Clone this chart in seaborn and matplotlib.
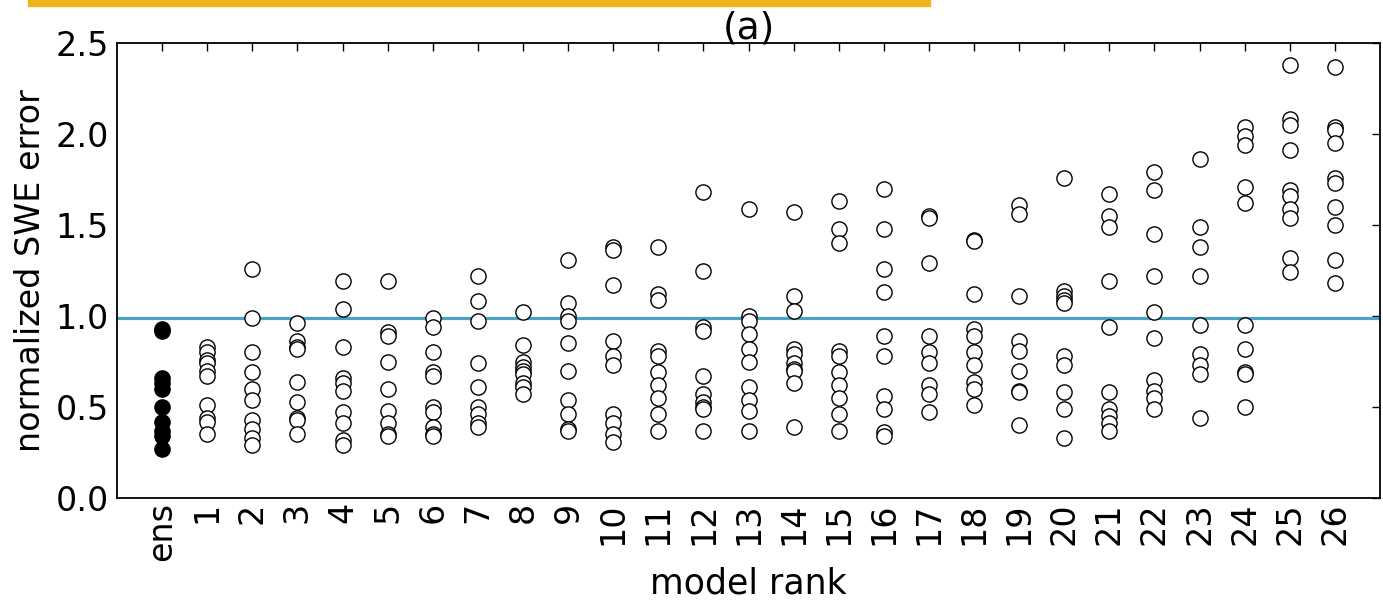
import numpy as np
import pandas as pd
import matplotlib
matplotlib.use("Agg")
import matplotlib.pyplot as plt
import seaborn as sns

# ---- data: normalized SWE error per model rank column ----
ranks = ['ens'] + [str(i) for i in range(1, 27)]

ens = [0.93, 0.92, 0.66, 0.63, 0.60, 0.50, 0.42, 0.37, 0.34, 0.27]
r1 = [0.83, 0.80, 0.76, 0.74, 0.70, 0.67, 0.51, 0.44, 0.42, 0.35]
r2 = [1.26, 0.99, 0.80, 0.69, 0.60, 0.54, 0.43, 0.38, 0.33, 0.29]
r3 = [0.96, 0.86, 0.83, 0.82, 0.64, 0.53, 0.44, 0.43, 0.35]
r4 = [1.19, 1.04, 0.83, 0.66, 0.63, 0.59, 0.47, 0.41, 0.32, 0.29]
r5 = [1.19, 0.91, 0.89, 0.75, 0.60, 0.48, 0.41, 0.35, 0.34]
r6 = [0.99, 0.94, 0.80, 0.69, 0.67, 0.50, 0.47, 0.39, 0.35, 0.34]
r7 = [1.22, 1.08, 0.97, 0.74, 0.61, 0.50, 0.46, 0.41, 0.39]
r8 = [1.02, 0.84, 0.75, 0.72, 0.70, 0.68, 0.63, 0.61, 0.57]
r9 = [1.31, 1.07, 1.00, 0.97, 0.85, 0.70, 0.54, 0.46, 0.38, 0.37]
r10 = [1.38, 1.36, 1.17, 0.86, 0.78, 0.73, 0.46, 0.41, 0.35, 0.31]
r11 = [1.38, 1.12, 1.09, 0.81, 0.78, 0.69, 0.62, 0.55, 0.46, 0.37]
r12 = [1.68, 1.25, 0.94, 0.92, 0.67, 0.57, 0.53, 0.50, 0.49, 0.37]
r13 = [1.59, 1.00, 0.97, 0.90, 0.82, 0.75, 0.61, 0.54, 0.48, 0.37]
r14 = [1.57, 1.11, 1.03, 0.82, 0.79, 0.74, 0.71, 0.70, 0.63, 0.39]
r15 = [1.63, 1.48, 1.40, 0.81, 0.78, 0.69, 0.62, 0.55, 0.46, 0.37]
r16 = [1.70, 1.48, 1.26, 1.13, 0.89, 0.78, 0.56, 0.49, 0.36, 0.34]
r17 = [1.55, 1.54, 1.29, 0.89, 0.80, 0.74, 0.62, 0.57, 0.47]
r18 = [1.42, 1.41, 1.12, 0.93, 0.89, 0.80, 0.73, 0.64, 0.60, 0.51]
r19 = [1.61, 1.56, 1.11, 0.86, 0.81, 0.70, 0.59, 0.58, 0.40]
r20 = [1.76, 1.14, 1.11, 1.09, 1.07, 0.78, 0.73, 0.58, 0.49, 0.33]
r21 = [1.67, 1.55, 1.49, 1.19, 0.94, 0.58, 0.49, 0.45, 0.41, 0.37]
r22 = [1.79, 1.69, 1.45, 1.22, 1.02, 0.88, 0.65, 0.59, 0.55, 0.49]
r23 = [1.86, 1.49, 1.38, 1.22, 0.95, 0.79, 0.73, 0.68, 0.44]
r24 = [2.04, 1.99, 1.94, 1.71, 1.62, 0.95, 0.82, 0.69, 0.68, 0.50]
r25 = [2.38, 2.08, 2.05, 1.91, 1.69, 1.66, 1.59, 1.54, 1.32, 1.24]
r26 = [2.37, 2.04, 2.02, 1.95, 1.76, 1.73, 1.60, 1.50, 1.31, 1.18]

columns = [ens, r1, r2, r3, r4, r5, r6, r7, r8, r9, r10, r11, r12, r13,
           r14, r15, r16, r17, r18, r19, r20, r21, r22, r23, r24, r25, r26]
ref_level = 0.99

rows = []
for pos, vals in enumerate(columns):
    for v in vals:
        rows.append({'pos': pos, 'rank': ranks[pos], 'error': v})
df = pd.DataFrame(rows)

sns.set_style("white")
plt.rcParams['font.family'] = ['DejaVu Sans']
plt.rcParams['text.color'] = 'black'
plt.rcParams['axes.labelcolor'] = 'black'
plt.rcParams['xtick.color'] = 'black'
plt.rcParams['ytick.color'] = 'black'
plt.rcParams['xtick.direction'] = 'in'
plt.rcParams['ytick.direction'] = 'in'

fig = plt.figure(figsize=(13.83, 6.04), dpi=100)
ax = fig.add_axes([117 / 1383, 1 - 498 / 604, (1380 - 117) / 1383, (498 - 43) / 604])

sns.scatterplot(data=df[df['pos'] > 0], x='pos', y='error', ax=ax, s=120,
                facecolor='white', edgecolor='black', linewidth=1.0, zorder=3)
sns.scatterplot(data=df[df['pos'] == 0], x='pos', y='error', ax=ax, s=120,
                color='black', edgecolor='black', linewidth=1.0, zorder=3)
ax.axhline(ref_level, color='#4aa3c2', lw=2.3, zorder=2)

ax.set_xlim(-1, 27)
ax.set_ylim(0, 2.5)
ax.set_xticks(range(len(ranks)))
ax.set_xticklabels(ranks, rotation=90, fontsize=24)
ax.set_yticks([0.0, 0.5, 1.0, 1.5, 2.0, 2.5])
ax.set_yticklabels(['0.0', '0.5', '1.0', '1.5', '2.0', '2.5'], fontsize=24)
ax.tick_params(axis='both', which='both', top=True, right=True, length=6,
               width=1, color='black', pad=6)
ax.tick_params(axis='x', pad=3)
for sp in ax.spines.values():
    sp.set_visible(True)
    sp.set_color('black')
    sp.set_linewidth(1.3)
ax.set_xlabel('model rank', fontsize=25, labelpad=4)
ax.set_ylabel('normalized SWE error', fontsize=24, labelpad=6)
ax.set_title('(a)', fontsize=27, pad=3)

# orange banner strip along the top
fig.patches.append(plt.Rectangle((28 / 1383, 1 - 6 / 604), (930 - 28) / 1383, 6 / 604,
                                 transform=fig.transFigure, color='#f0b41e', zorder=5))

fig.savefig('out.png', dpi=100)
